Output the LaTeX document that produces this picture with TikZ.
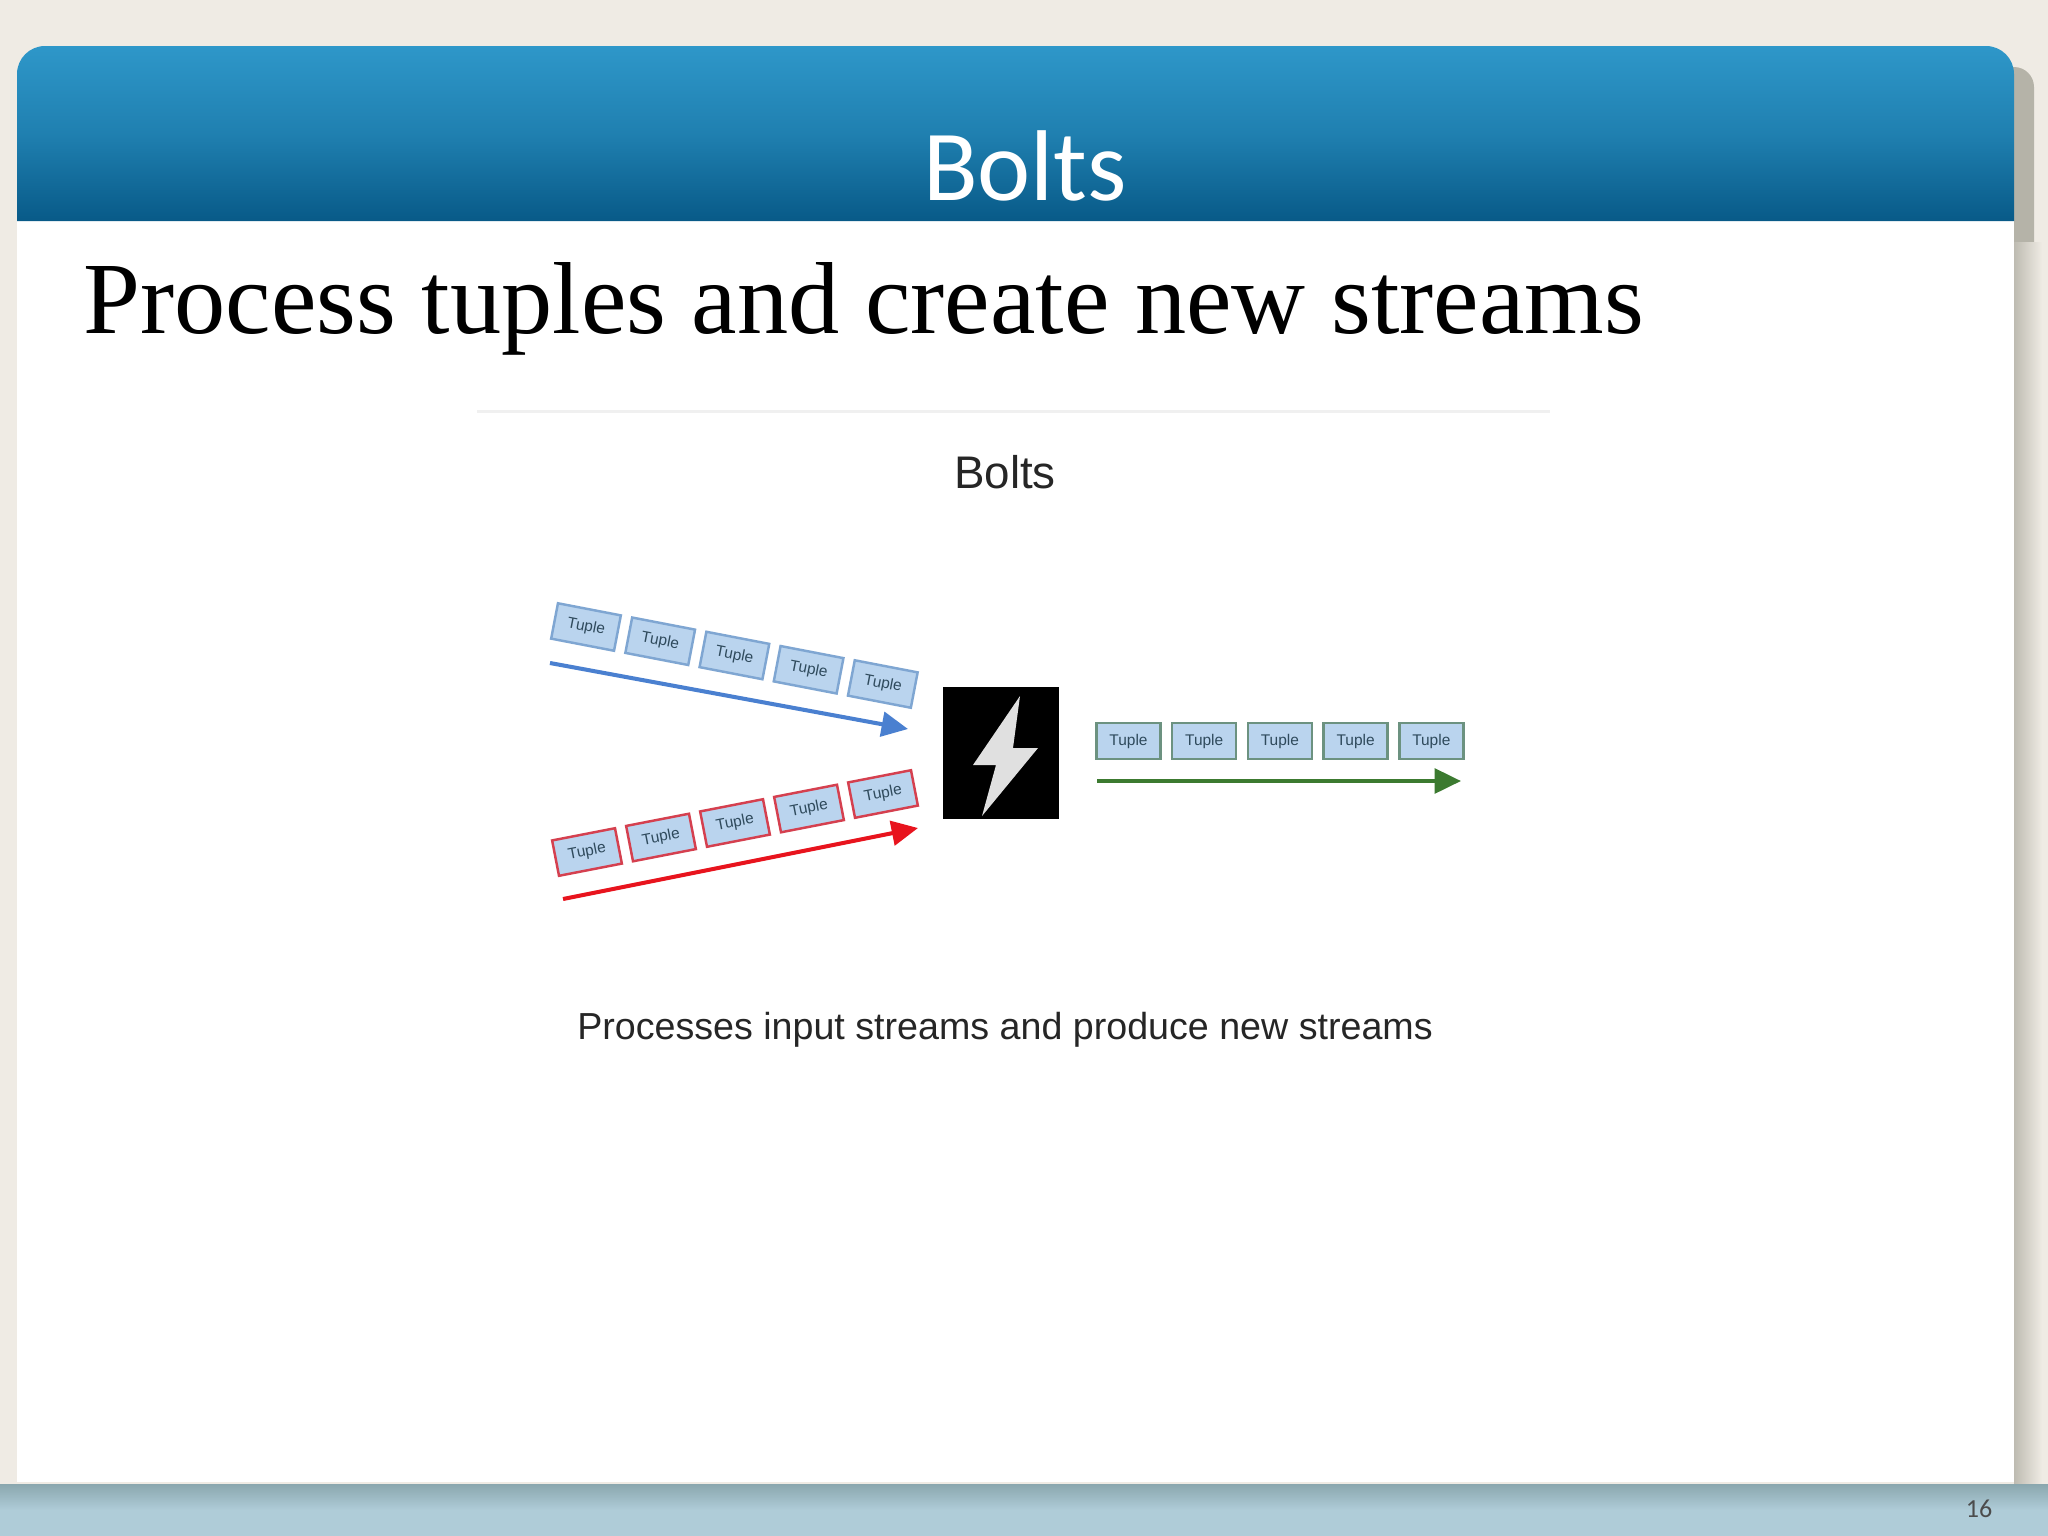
\documentclass[tikz,border=0pt]{standalone}
\usepackage{fontspec}
\setmainfont{Liberation Serif}
\newfontfamily\slidefont{Carlito}
\newfontfamily\shotfont{Liberation Sans}
\usetikzlibrary{arrows.meta}
\definecolor{pagebg}{HTML}{EFEBE4}
\definecolor{tabgray}{HTML}{B5B3A8}
\definecolor{bandtop}{HTML}{2E97C9}
\definecolor{bandlow}{HTML}{085A88}
\definecolor{foottop}{HTML}{8AA7AE}
\definecolor{footlow}{HTML}{AFCCD8}
\definecolor{tuplefill}{HTML}{BAD4EE}
\definecolor{blueedge}{HTML}{7FA6D2}
\definecolor{redTuple}{HTML}{D5404F}
\definecolor{greenedge}{HTML}{6C9280}
\definecolor{bluearrow}{HTML}{4A80D0}
\definecolor{redarrow}{HTML}{E8141E}
\definecolor{greenarrow}{HTML}{3C7A30}
\definecolor{tupletext}{HTML}{2F4A5C}
\begin{document}
\begin{tikzpicture}[x=0.01cm, y=-0.01cm,
    tuple/.style={rectangle, draw, line width=0.7pt, fill=tuplefill, minimum width=0.64cm, minimum height=0.36cm, inner sep=0pt, text=tupletext, font=\shotfont\fontsize{4.4}{5}\selectfont},
    flow/.style={-{Triangle[length=7.5pt, width=7pt]}, line width=1.15pt}
]
    \useasboundingbox (0,0) rectangle (2048,1536);

    % Slide background
    \fill[pagebg] (0,0) rectangle (2048,1536);
    \fill[tabgray] (1980,67) [rounded corners=0.2cm] -- (2034,67) [sharp corners] -- (2034,242) -- (1980,242) -- cycle;
    \shade[left color=tabgray!85!pagebg, right color=pagebg] (2014,242) rectangle (2042,1484);
    \fill[white] (17,200) rectangle (2014,1482);
    \shade[top color=foottop, bottom color=footlow] (0,1484) rectangle (2048,1510);
    \fill[footlow] (0,1510) rectangle (2048,1536);
    \shade[top color=bandtop, bottom color=bandlow, middle color=bandtop!62!bandlow] (17,221) [rounded corners=0.28cm] -- (17,46) -- (2014,46) [sharp corners] -- (2014,221) -- cycle;

    % Slide texts
    \node[text=white, font=\slidefont\fontsize{28.6}{30}\selectfont] (title) at (1025,166) {Bolts};
    \node[anchor=base west, inner sep=0pt, font=\fontsize{29.1}{32}\selectfont] (heading) at (83,333) {Process tuples and create new streams};
    \node[text=black!70, font=\slidefont\fontsize{7.4}{9}\selectfont] (pagenum) at (1979,1509) {16};

    % Screenshot: rule, title and caption
    \fill[black!6] (477,410) rectangle (1550,413);
    \node[text=black!85, font=\shotfont\fontsize{13}{15}\selectfont] (shottitle) at (1005,472) {Bolts};
    \node[text=black!85, font=\shotfont\fontsize{10.7}{13}\selectfont] (caption) at (1005,1030) {Processes input streams and produce new streams};

    % Row 1: Blue input
    \foreach \i in {0,...,4}
        \node[tuple, draw=blueedge, rotate=-10.9] (blue\i) at ({586+74.2*\i},{627+14.25*\i}) {Tuple};
    \coordinate (bluestart) at (550,663);
    \coordinate (blueend) at (908,729);
    \draw[flow, bluearrow] (bluestart) -- (blueend);

    % Row 2: Red input
    \foreach \i in {0,...,4}
        \node[tuple, draw=redTuple, rotate=11] (red\i) at ({587+74*\i},{852-14.5*\i}) {Tuple};
    \coordinate (redstart) at (563,899);
    \coordinate (redend) at (918,828);
    \draw[flow, redarrow] (redstart) -- (redend);

    % Bolt icon
    \node[rectangle, fill=black, minimum width=1.16cm, minimum height=1.32cm, inner sep=0pt] (bolticon) at (1001,753) {};
    \fill[black!12] (1020,696) -- (973,765) -- (996,765) -- (982,816) -- (1038,748) -- (1013,748) -- cycle;

    % Row 3: Green output
    \foreach \i in {0,...,4}
        \node[tuple, draw=greenedge] (green\i) at ({1128.5+75.7*\i},741) {Tuple};
    \coordinate (greenstart) at (1097,781);
    \coordinate (greenend) at (1461,781);
    \draw[flow, greenarrow] (greenstart) -- (greenend);
\end{tikzpicture}
\end{document}
